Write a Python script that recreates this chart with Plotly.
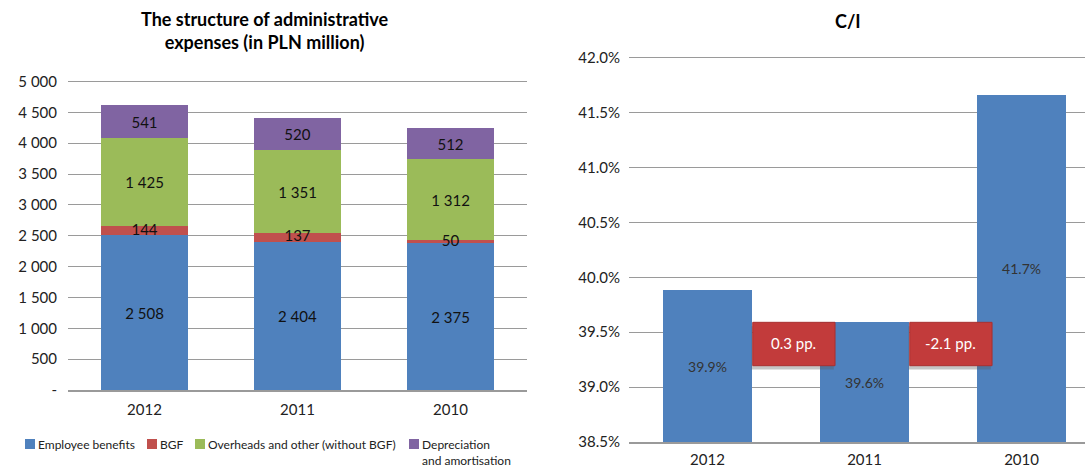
import plotly.graph_objects as go

# ---------------- data ----------------
years = ["2012", "2011", "2010"]
employee_benefits = [2508, 2404, 2375]
bgf = [144, 137, 50]
overheads = [1425, 1351, 1312]
depreciation = [541, 520, 512]
series_names = ["Employee benefits", "BGF", "Overheads and other (without BGF)",
                "Depreciation<br>and amortisation"]

left_tickvals = [0, 500, 1000, 1500, 2000, 2500, 3000, 3500, 4000, 4500, 5000]
left_ticktext = ["-", "500", "1 000", "1 500", "2 000", "2 500", "3 000", "3 500",
                 "4 000", "4 500", "5 000"]

ci_values = [39.88, 39.59, 41.66]
ci_labels = ["39.9%", "39.6%", "41.7%"]
ci_changes = ["0.3 pp.", "-2.1 pp."]

# ---------------- style ----------------
BLUE, RED, GREEN, PURPLE = "#4F81BD", "#C0504D", "#9BBB59", "#8064A2"
FONT = "Lato"
GRID = "#9a9a9a"
BAR_W = 0.57
W, H = 1085, 467

fig = go.Figure()

series = [employee_benefits, bgf, overheads, depreciation]
colors = [BLUE, RED, GREEN, PURPLE]
for name, vals, col in zip(series_names, series, colors):
    is_bgf = vals is bgf
    fig.add_trace(go.Bar(
        x=years, y=vals, name=name.replace("<br>", " "), marker_color=col, width=BAR_W,
        marker_line_width=0, showlegend=False,
        text=None if is_bgf else vals,
        texttemplate=None if is_bgf else "%{y:,}",
        textposition="none" if is_bgf else "inside",
        insidetextanchor="middle",
        textfont=dict(family=FONT, size=15, color="#111111"),
        xaxis="x", yaxis="y",
    ))

# BGF labels (overflowing the thin segment, centred on it)
bgf_mid = [e + b / 2 for e, b in zip(employee_benefits, bgf)]
fig.add_trace(go.Scatter(
    x=years, y=bgf_mid, mode="text", text=[f"{v:,}".replace(",", " ") for v in bgf],
    textfont=dict(family=FONT, size=15, color="#111111"), showlegend=False,
    hoverinfo="skip", xaxis="x", yaxis="y",
))

# C/I bars
CI_BASE = 38.5
fig.add_trace(go.Bar(
    x=years, y=[v - CI_BASE for v in ci_values], base=CI_BASE, width=BAR_W,
    marker_color=BLUE, marker_line_width=0, showlegend=False,
    text=ci_labels, textposition="inside", insidetextanchor="middle",
    textfont=dict(family=FONT, size=14, color="#333333"),
    xaxis="x2", yaxis="y2",
))

# change boxes between consecutive C/I bars
shapes = []
annotations = []
BOX_H = 0.395
for i, label in enumerate(ci_changes):
    top = min(ci_values[i], ci_values[i + 1])
    x0 = i + BAR_W / 2 + 0.003
    x1 = i + 0.812
    shapes.append(dict(type="rect", xref="x2", yref="y2",
                       x0=x0 - 0.008, x1=x1 - 0.008, y0=top - BOX_H - 0.035, y1=top - 0.035,
                       fillcolor="rgba(90,90,90,0.35)", line_width=0, layer="above"))
    shapes.append(dict(type="rect", xref="x2", yref="y2",
                       x0=x0, x1=x1, y0=top - BOX_H, y1=top,
                       fillcolor="#C23B3B", line=dict(color="#A83030", width=1), layer="above"))
    annotations.append(dict(xref="x2", yref="y2", x=(x0 + x1) / 2, y=top - BOX_H / 2 + 0.01,
                            text=label, showarrow=False,
                            font=dict(family=FONT, size=15, color="white")))

# titles
annotations.append(dict(xref="paper", yref="paper", x=265 / W, y=1 - 6 / H,
                        xanchor="center", yanchor="top", showarrow=False,
                        text="<b>The structure of administrative<br>expenses (in PLN million)</b>",
                        font=dict(family=FONT, size=18, color="#000000")))
annotations.append(dict(xref="paper", yref="paper", x=848 / W, y=1 - 8 / H,
                        xanchor="center", yanchor="top", showarrow=False,
                        text="<b>C/I</b>",
                        font=dict(family=FONT, size=18, color="#000000")))

# compact legend (square swatch + label), laid out like the original
LEG_X = [25, 147, 195, 409]
LEG_Y = 444
SW = 10
for name, col, lx in zip(series_names, colors, LEG_X):
    shapes.append(dict(type="rect", xref="paper", yref="paper",
                       x0=lx / W, x1=(lx + SW) / W,
                       y0=(H - LEG_Y - SW / 2) / H, y1=(H - LEG_Y + SW / 2) / H,
                       fillcolor=col, line_width=0))
    annotations.append(dict(xref="paper", yref="paper", x=(lx + SW + 1) / W,
                            y=(H - LEG_Y + 9) / H, xanchor="left", yanchor="top",
                            align="left", showarrow=False, text=name,
                            font=dict(family=FONT, size=12, color="#222222")))

# axis geometry (pixels from top)
L_TOP, L_BOT = 81.5, 390.0
R_TOP, R_BOT = 57.7, 442.0
L_MAX, R_MAX = 5000, 42.0
L_PAD = 20            # small headroom so top gridline is drawn
R_PAD = 0.02
l_px_per = (L_BOT - L_TOP) / L_MAX
r_px_per = (R_BOT - R_TOP) / (R_MAX - CI_BASE)

fig.update_layout(
    width=W, height=H,
    margin=dict(l=0, r=0, t=0, b=0, autoexpand=False),
    paper_bgcolor="white", plot_bgcolor="white",
    barmode="stack",
    separators=". ",
    font=dict(family=FONT, size=14, color="#222222"),
    showlegend=False,
    xaxis=dict(domain=[68 / W, 527 / W], range=[-0.5, 2.5], type="category",
               showgrid=False, showline=True, linecolor=GRID, linewidth=1.5,
               ticks="", ticklabelstandoff=5,
               tickfont=dict(family=FONT, size=15, color="#222222"),
               anchor="y"),
    yaxis=dict(domain=[(H - L_BOT) / H, (H - L_TOP + L_PAD * l_px_per) / H],
               range=[0, L_MAX + L_PAD],
               tickvals=left_tickvals, ticktext=left_ticktext,
               showgrid=True, gridcolor=GRID, gridwidth=1.2, zeroline=False,
               showline=False, ticks="", ticklabelstandoff=10,
               tickfont=dict(family=FONT, size=15, color="#222222"), anchor="x"),
    xaxis2=dict(domain=[629 / W, 1.0], range=[-0.5, 2.404], type="category",
                showgrid=False, showline=True, linecolor=GRID, linewidth=1.5,
                ticks="", ticklabelstandoff=3,
                tickfont=dict(family=FONT, size=15, color="#222222"),
                anchor="y2"),
    yaxis2=dict(domain=[(H - R_BOT) / H, (H - R_TOP + R_PAD * r_px_per) / H],
                range=[CI_BASE, R_MAX + R_PAD],
                dtick=0.5, tick0=38.5, tickformat=".1f", ticksuffix="%",
                showgrid=True, gridcolor=GRID, gridwidth=1.2, zeroline=False,
                showline=False, ticks="", ticklabelstandoff=8,
                tickfont=dict(family=FONT, size=15, color="#222222"), anchor="x2"),
    shapes=shapes,
    annotations=annotations,
)

fig.write_html("out.html", config={"displayModeBar": False},
               post_script="document.body.style.margin='0';document.body.style.overflow='hidden';")
